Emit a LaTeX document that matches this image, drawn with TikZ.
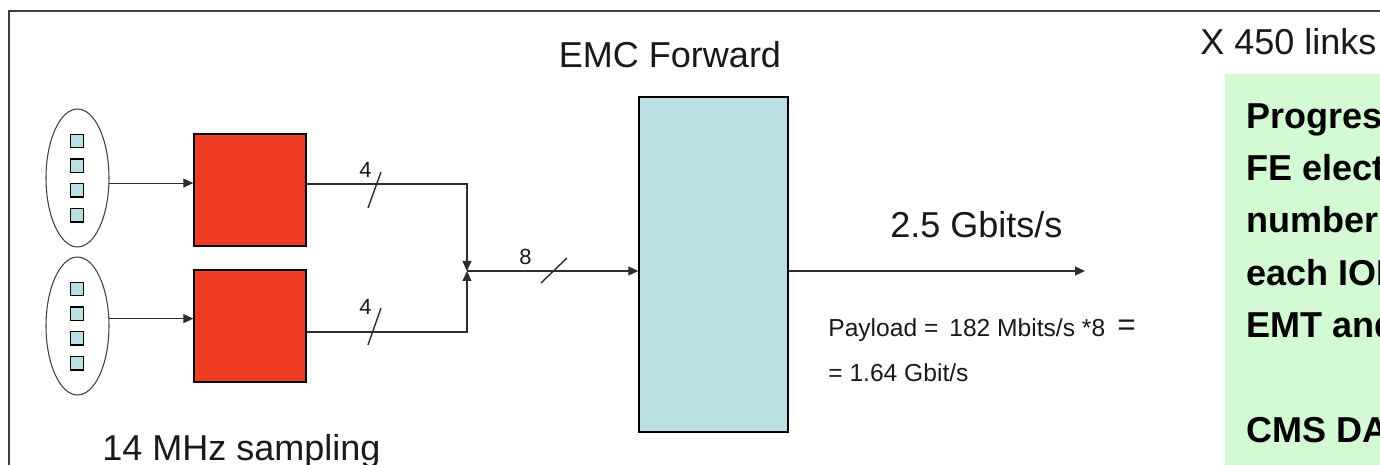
\documentclass[tikz,border=0pt]{standalone}
\usepackage{fontspec}
\setmainfont{Liberation Sans}
\usetikzlibrary{shapes.geometric,arrows.meta}

\definecolor{padblue}{RGB}{185,223,226}
\definecolor{chipred}{RGB}{238,59,36}
\definecolor{notegreen}{RGB}{212,250,212}
\definecolor{wiregray}{RGB}{45,45,45}
\definecolor{inkgray}{RGB}{25,25,25}

\newcommand*{\wmax}{1380}
\newcommand*{\hmax}{465}

\begin{document}
\begin{tikzpicture}
[
	x=0.02cm, y=-0.02cm,
	>={Triangle[length=0.2cm,width=0.18cm]},
	wire/.style={draw=wiregray,line width=0.6pt},
	slash/.style={draw=wiregray,line width=0.8pt},
	frame/.style={draw=darkgray,line width=1.2pt},
	sensor/.style={ellipse,draw=darkgray,line width=0.6pt,minimum width=1.26cm,minimum height=2.76cm,inner sep=0pt},
	pad/.style={rectangle,draw,fill=padblue,line width=0.8pt,minimum size=0.27cm,inner sep=0pt},
	chip/.style={rectangle,draw,fill=chipred,line width=0.8pt,minimum size=2.24cm,inner sep=0pt},
	emcbox/.style={rectangle,draw,fill=padblue,line width=0.8pt,minimum width=2.98cm,minimum height=6.7cm,inner sep=0pt},
	bigtxt/.style={font=\fontsize{20.5}{24}\selectfont,text=inkgray,inner sep=0pt},
	smalltxt/.style={font=\fontsize{14}{16}\selectfont,text=inkgray,inner sep=0pt},
	bittxt/.style={font=\fontsize{12.5}{15}\selectfont,text=inkgray,inner sep=0pt},
	notetxt/.style={font=\fontsize{20.5}{24}\selectfont\bfseries,inner sep=0pt}
]

	% page size
	\useasboundingbox (0,0) rectangle (\wmax,\hmax);
	\clip (0,0) rectangle (\wmax,\hmax);

	% frame
	\draw[frame] (9,\hmax) -- (9,11) -- (\wmax,11);

	% note panel
	\fill[notegreen] (1225,74) rectangle (\wmax,\hmax);
	\foreach \txt/\yy [count=\i] in {Progres/129, FE elect/181, number/233, each IOP/286, EMT and/338, CMS DA/443} {
		\node[notetxt,anchor=base west] (note\i) at (1246,\yy) {\txt};
	}

	% sensors with pads
	\foreach \s/\cy in {1/178, 2/326} {
		\node[sensor] (sens\s) at (77.5,\cy) {};
		\foreach \k in {0,...,3} {
			\node[pad] (pad\s\k) at (77,\cy-37+24.7*\k) {};
		}
	}

	% front end chips
	\node[chip] (chip1) at (250,190) {};
	\node[chip] (chip2) at (250,326) {};

	% EMC board
	\node[emcbox] (emc) at (713.5,264.5) {};

	% connections
	\coordinate (join) at (467,271);
	\coordinate (out) at (1085,271);
	\draw[wire,->] (sens1.-9) -- (sens1.-9 -| chip1.west);
	\draw[wire,->] (sens2.13) -- (sens2.13 -| chip2.west);
	\draw[wire,->] ([yshift=0.12cm]chip1.east) -| (join);
	\draw[wire,->] ([yshift=-0.12cm]chip2.east) -| (join);
	\draw[wire,->] (join) -- (join -| emc.west);
	\draw[wire,->] (join -| emc.east) -- (out);

	% bus width marks
	\draw[slash] (368,208) -- (381,172);
	\draw[slash] (368,345) -- (381,308);
	\draw[slash] (541,283) -- (567,258);
	\node[bittxt,anchor=base west] (bits1) at (359,178) {4};
	\node[bittxt,anchor=base west] (bits2) at (359,315) {4};
	\node[bittxt,anchor=base west] (bits3) at (519,265) {8};

	% labels
	\node[bigtxt,anchor=base] (title) at (670,68) {EMC Forward};
	\node[bigtxt,anchor=base west] (links) at (1200,55) {X 450 links};
	\node[bigtxt,anchor=base west] (rate) at (890,238) {2.5 Gbits/s};
	\node[bigtxt,anchor=base west] (sampling) at (102,461) {14 MHz sampling};
	\node[smalltxt,anchor=base west] (payload) at (828,337) {Payload = \,182 Mbits/s *8};
	\node[bigtxt,font=\fontsize{18}{20}\selectfont,anchor=base west] (eqsign) at (1117,336) {=};
	\node[smalltxt,anchor=base west] (gbit) at (828,382) {= 1.64 Gbit/s};

\end{tikzpicture}
\end{document}
